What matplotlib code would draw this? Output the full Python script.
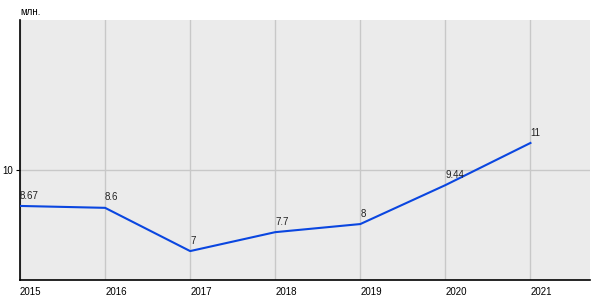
import matplotlib

matplotlib.use("Agg")
import matplotlib.pyplot as plt

years = [2015, 2016, 2017, 2018, 2019, 2020, 2021]
values = [8.67, 8.6, 7, 7.7, 8, 9.44, 11]
labels = ["8.67", "8.6", "7", "7.7", "8", "9.44", "11"]
y_ticks = [10]

LINE = "#0a46e0"
BG = "#ebebeb"
GRID = "#c8c8c8"

plt.rcParams["font.family"] = ["Liberation Sans", "DejaVu Sans"]

fig = plt.figure(figsize=(6, 3), dpi=100)
ax = fig.add_axes([20 / 600, 20 / 300, 570 / 600, 260 / 300])
ax.set_facecolor(BG)

ax.plot(years, values, color=LINE, lw=1.5, zorder=3)
for x, y, s in zip(years, values, labels):
    ax.text(x, y + 0.2, s, ha="left", va="bottom", fontsize=7, color="#222222", zorder=4)

ax.set_xlim(2015, 2021.7)
ax.set_ylim(5.93, 15.55)
ax.set_xticks(years)
ax.set_xticklabels([str(y) for y in years], ha="left")
ax.set_yticks(y_ticks)
ax.tick_params(axis="x", length=0, labelsize=7, pad=5)
ax.tick_params(axis="y", length=3, labelsize=7, pad=2)
ax.grid(True, color=GRID, lw=1)
ax.set_axisbelow(True)
for side in ("top", "right"):
    ax.spines[side].set_visible(False)
for side in ("left", "bottom"):
    ax.spines[side].set_color("black")
    ax.spines[side].set_linewidth(1.2)

fig.text(20 / 600, 1 - 12 / 300, "млн.", ha="left", va="center", fontsize=7)

fig.savefig("out.png", dpi=100, facecolor="white")
